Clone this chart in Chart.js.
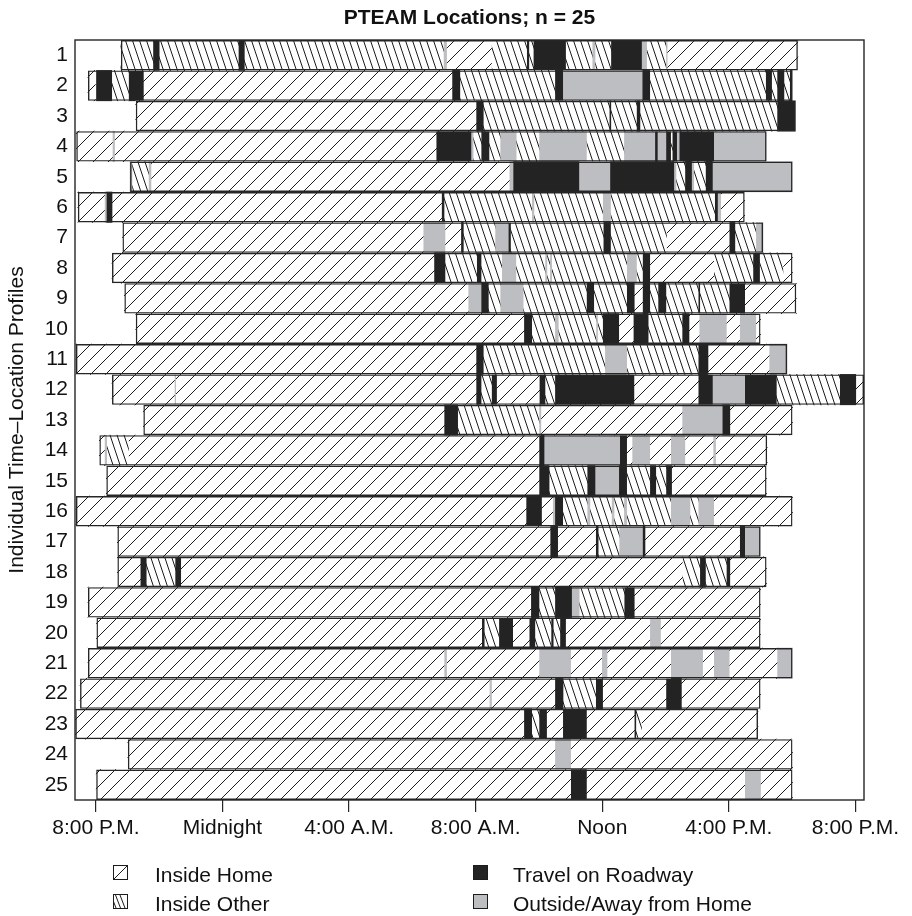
<!DOCTYPE html>
<html>
<head>
<meta charset="utf-8">
<script src="https://cdn.jsdelivr.net/npm/chart.js@4.4.1/dist/chart.umd.min.js"></script>
<style>
  html, body { margin: 0; padding: 0; background: #fff; }
  #wrap { position: relative; width: 912px; height: 916px; }
  #chart { position: absolute; left: 0; top: 0; }
  #title { position: absolute; left: 269.5px; width: 400px; top: 4px; text-align: center;
           font: bold 21px "Liberation Sans", Arial, Helvetica, sans-serif; line-height: 25px; color: #111; white-space: nowrap; }
  .lg { position: absolute; font: 21px "Liberation Sans", Arial, Helvetica, sans-serif; line-height: 21px; color: #111; white-space: nowrap; }
  .sw { position: absolute; }
</style>
</head>
<body>
<div id="wrap">
  <canvas id="chart" width="912" height="916"></canvas>
  <div id="title">PTEAM Locations; n = 25</div>
  <div id="legend"></div>
</div>
<script>
// Location categories (codes used in the profiles below)
const categories = ['Inside Home', 'Inside Other', 'Travel on Roadway', 'Outside/Away from Home'];
const codes = ['H', 'O', 'T', 'A'];

// Hours after 8:00 P.M. and their axis labels
const tickHours = [0, 4, 8, 12, 16, 20, 24];
const tickLabels = ['8:00 P.M.', 'Midnight', '4:00 A.M.', '8:00 A.M.', 'Noon', '4:00 P.M.', '8:00 P.M.'];
const xMin = -0.66;
const xMax = 24.27;

// Each profile: start hour, then (location code, end hour) pairs
const p01 = [0.79, 'O', 1.80, 'T', 2.0, 'O', 4.5, 'T', 4.69, 'O', 10.98, 'A', 11.08, 'H', 12.5, 'O', 13.61, 'T', 13.68, 'O', 13.82, 'T', 14.84, 'O', 15.68, 'A', 15.77, 'O', 16.27, 'T', 17.24, 'A', 17.40, 'O', 18.01, 'A', 18.05, 'H', 22.18];
const p02 = [-0.25, 'H', 0.0, 'T', 0.5, 'O', 1.03, 'T', 1.5, 'H', 11.25, 'T', 11.5, 'O', 14.5, 'T', 14.75, 'A', 17.26, 'T', 17.5, 'O', 21.16, 'T', 21.35, 'O', 21.52, 'T', 21.74, 'O', 21.92, 'T', 22.0];
const p03 = [1.26, 'H', 12.01, 'T', 12.24, 'O', 16.22, 'T', 16.27, 'O', 17.08, 'T', 17.19, 'O', 21.52, 'T', 22.1];
const p04 = [-0.62, 'H', 0.52, 'A', 0.59, 'H', 10.75, 'T', 11.85, 'A', 11.92, 'O', 12.17, 'T', 12.42, 'O', 12.77, 'A', 13.28, 'O', 14.0, 'A', 15.5, 'O', 16.68, 'A', 17.66, 'T', 17.74, 'A', 18.01, 'T', 18.16, 'O', 18.21, 'T', 18.35, 'A', 18.43, 'T', 19.52, 'A', 21.19];
const p05 = [1.08, 'A', 1.14, 'O', 1.66, 'A', 1.74, 'H', 13.06, 'A', 13.18, 'T', 15.26, 'A', 16.24, 'T', 18.26, 'A', 18.33, 'O', 18.61, 'T', 18.82, 'A', 18.89, 'O', 19.26, 'T', 19.48, 'A', 22.01];
const p06 = [-0.57, 'H', 0.27, 'A', 0.33, 'T', 0.51, 'H', 10.92, 'T', 11.0, 'O', 13.77, 'A', 13.84, 'O', 16.01, 'A', 16.26, 'O', 19.55, 'T', 19.64, 'A', 19.74, 'H', 20.5];
const p07 = [0.84, 'H', 10.34, 'A', 11.03, 'H', 11.53, 'T', 11.61, 'O', 12.61, 'A', 13.03, 'T', 13.1, 'O', 16.03, 'T', 16.26, 'O', 18.03, 'H', 20.01, 'T', 20.19, 'O', 20.85, 'A', 21.08];
const p08 = [0.51, 'H', 10.68, 'T', 11.03, 'O', 12.03, 'T', 12.17, 'O', 12.82, 'A', 13.27, 'O', 14.19, 'A', 14.25, 'O', 14.34, 'A', 14.4, 'O', 16.77, 'A', 17.08, 'O', 17.27, 'T', 17.5, 'H', 19.52, 'O', 20.76, 'T', 20.97, 'O', 21.71, 'H', 22.01];
const p09 = [0.9, 'H', 11.76, 'A', 12.17, 'T', 12.4, 'O', 12.77, 'A', 13.5, 'O', 15.5, 'T', 15.73, 'O', 16.77, 'T', 17.01, 'H', 17.27, 'T', 17.5, 'O', 17.76, 'T', 18.01, 'O', 19.03, 'T', 19.08, 'O', 20.01, 'T', 20.5, 'H', 22.13];
const p10 = [1.26, 'H', 13.52, 'T', 13.77, 'O', 14.5, 'A', 14.61, 'O', 15.8, 'A', 15.85, 'O', 16.01, 'T', 16.52, 'H', 16.98, 'T', 17.45, 'O', 18.52, 'T', 18.74, 'H', 19.06, 'A', 19.92, 'H', 20.34, 'A', 20.85, 'H', 21.0];
const p11 = [-0.63, 'H', 12.01, 'T', 12.24, 'O', 16.08, 'A', 16.77, 'O', 19.03, 'T', 19.34, 'H', 21.27, 'A', 21.84];
const p12 = [0.51, 'H', 2.48, 'A', 2.52, 'H', 12.01, 'T', 12.17, 'O', 12.5, 'T', 12.66, 'H', 14.01, 'T', 14.19, 'O', 14.5, 'T', 17.0, 'H', 19.03, 'T', 19.48, 'A', 20.5, 'T', 21.5, 'O', 23.5, 'T', 24.01, 'H', 24.27];
const p13 = [1.5, 'H', 11.0, 'T', 11.43, 'O', 14.0, 'A', 14.06, 'H', 18.52, 'A', 19.79, 'T', 20.03, 'H', 22.01];
const p14 = [0.11, 'H', 0.27, 'A', 0.34, 'O', 1.03, 'H', 14.0, 'T', 14.16, 'A', 16.55, 'T', 16.77, 'H', 16.94, 'A', 17.5, 'H', 18.16, 'A', 18.61, 'H', 19.5, 'A', 19.58, 'H', 21.21];
const p15 = [0.33, 'H', 14.0, 'T', 14.32, 'O', 15.52, 'T', 15.77, 'A', 16.52, 'T', 16.77, 'O', 17.5, 'T', 17.69, 'O', 18.01, 'T', 18.19, 'H', 21.19];
const p16 = [-0.63, 'H', 13.59, 'T', 14.08, 'H', 14.43, 'A', 14.5, 'T', 14.75, 'O', 15.52, 'A', 15.61, 'O', 16.29, 'A', 16.37, 'O', 16.68, 'A', 16.77, 'O', 18.16, 'A', 18.77, 'O', 19.03, 'A', 19.52, 'H', 22.01];
const p17 = [0.68, 'H', 14.35, 'T', 14.59, 'H', 15.79, 'T', 15.87, 'O', 16.53, 'A', 17.27, 'T', 17.35, 'H', 20.34, 'T', 20.5, 'A', 21.0];
const p18 = [0.68, 'H', 1.4, 'T', 1.59, 'O', 2.5, 'T', 2.68, 'H', 18.53, 'O', 19.08, 'T', 19.26, 'O', 19.92, 'T', 20.03, 'H', 21.19];
const p19 = [-0.25, 'H', 13.74, 'T', 14.0, 'O', 14.5, 'T', 15.03, 'A', 15.27, 'O', 16.69, 'T', 17.01, 'H', 21.0];
const p20 = [0.0, 'H', 12.19, 'T', 12.27, 'O', 12.73, 'T', 13.17, 'H', 13.69, 'T', 13.87, 'O', 14.38, 'T', 14.45, 'O', 14.66, 'T', 14.84, 'H', 17.5, 'A', 17.84, 'H', 21.0];
const p21 = [-0.25, 'H', 11.0, 'A', 11.08, 'H', 14.0, 'A', 15.0, 'H', 15.98, 'A', 16.15, 'H', 18.16, 'A', 19.17, 'H', 19.52, 'A', 20.01, 'H', 21.52, 'A', 22.01];
const p22 = [-0.5, 'H', 12.43, 'A', 12.5, 'H', 14.5, 'T', 14.76, 'O', 15.79, 'T', 16.01, 'H', 18.01, 'T', 18.5, 'H', 21.0];
const p23 = [-0.65, 'H', 13.52, 'T', 13.77, 'O', 14.0, 'T', 14.24, 'H', 14.75, 'T', 15.5, 'H', 17.01, 'T', 17.06, 'O', 17.24, 'H', 20.92];
const p24 = [1.01, 'H', 14.5, 'A', 15.0, 'H', 22.01];
const p25 = [0.01, 'H', 15.0, 'T', 15.5, 'H', 20.5, 'A', 21.0, 'H', 22.01];

const profiles = [p01, p02, p03, p04, p05, p06, p07, p08, p09, p10, p11, p12, p13,
                  p14, p15, p16, p17, p18, p19, p20, p21, p22, p23, p24, p25];
const rowLabels = profiles.map((_, i) => String(i + 1));

const FONT = '"Liberation Sans", Arial, Helvetica, sans-serif';
const INK = '#1c1c1c';

const canvas = document.getElementById('chart');
const ctx = canvas.getContext('2d');

// Hatch tiles: "/" for home, steep "\" for other indoor places
function hatchTile(kind) {
  const c = document.createElement('canvas');
  const w = kind === 'H' ? 15 : 7;
  const h = kind === 'H' ? 15 : 21;
  c.width = w; c.height = h;
  const g = c.getContext('2d');
  g.fillStyle = '#fff';
  g.fillRect(0, 0, w, h);
  g.strokeStyle = INK;
  g.lineWidth = 1;
  g.beginPath();
  for (let k = -1; k <= 1; k++) {
    if (kind === 'H') { g.moveTo(k * w, h); g.lineTo(k * w + w, 0); }
    else { g.moveTo(k * w, 0); g.lineTo(k * w + w, h); }
  }
  g.stroke();
  return c;
}

const fills = {
  H: ctx.createPattern(hatchTile('H'), 'repeat'),
  O: ctx.createPattern(hatchTile('O'), 'repeat'),
  T: '#232323',
  A: '#bdbec1'
};

// Break each profile into [from, to] segments
const rows = profiles.map(p => {
  const segs = [];
  let s = p[0];
  for (let i = 1; i < p.length; i += 2) {
    segs.push({ code: p[i], from: s, to: p[i + 1] });
    s = p[i + 1];
  }
  return { start: p[0], end: s, segs };
});
const maxSeg = Math.max(...rows.map(r => r.segs.length));

const datasets = [{
  label: 'day',
  data: rows.map(r => [r.start, r.end]),
  backgroundColor: 'rgba(0,0,0,0)',
  borderColor: '#262626',
  borderWidth: 1.4,
  borderSkipped: false,
  inflateAmount: 0,
  order: 0
}];
for (let k = 0; k < maxSeg; k++) {
  datasets.push({
    label: 'segment ' + (k + 1),
    data: rows.map(r => r.segs[k] ? [r.segs[k].from, r.segs[k].to] : null),
    backgroundColor: rows.map(r => r.segs[k] ? fills[r.segs[k].code] : 'rgba(0,0,0,0)'),
    borderWidth: 0,
    order: 1
  });
}

// Frame around the plotting region
const frame = {
  id: 'frame',
  afterDatasetsDraw(chart) {
    const a = chart.chartArea;
    const g = chart.ctx;
    g.save();
    g.strokeStyle = '#262626';
    g.lineWidth = 1.4;
    g.strokeRect(a.left, a.top, a.right - a.left, a.bottom - a.top);
    g.restore();
  }
};

new Chart(ctx, {
  type: 'bar',
  data: { labels: rowLabels, datasets },
  plugins: [frame],
  options: {
    indexAxis: 'y',
    responsive: false,
    animation: false,
    events: [],
    datasets: { bar: { grouped: false, barPercentage: 1, categoryPercentage: 1 } },
    layout: { padding: { left: 0, right: 48, top: 40, bottom: 0 } },
    plugins: {
      legend: { display: false },
      tooltip: { enabled: false },
      title: { display: false }
    },
    scales: {
      x: {
        type: 'linear',
        min: xMin,
        max: xMax,
        afterBuildTicks: s => { s.ticks = tickHours.map(v => ({ value: v })); },
        afterFit: s => { s.height = 116; },
        ticks: {
          autoSkip: false,
          maxRotation: 0,
          padding: 4,
          color: '#111',
          font: { family: FONT, size: 21 },
          callback: (v, i) => tickLabels[i]
        },
        grid: { drawOnChartArea: false, drawTicks: true, tickLength: 12, color: '#262626', lineWidth: 1.2 },
        border: { display: false }
      },
      y: {
        type: 'category',
        afterFit: s => { s.width = 75; },
        ticks: { autoSkip: false, padding: 7, color: '#111', font: { family: FONT, size: 21 } },
        grid: { display: false, drawTicks: false },
        border: { display: false },
        title: {
          display: true,
          text: 'Individual Time–Location Profiles',
          color: '#111',
          font: { family: FONT, size: 21 },
          padding: { top: 5, bottom: 0 }
        }
      }
    }
  }
});

// Legend in two columns below the axis
const legendSlots = [
  { code: 'H', x: 113, y: 865, tx: 155, ty: 864 },
  { code: 'O', x: 113, y: 894, tx: 155, ty: 893 },
  { code: 'T', x: 473, y: 865, tx: 513, ty: 864 },
  { code: 'A', x: 473, y: 894, tx: 513, ty: 893 }
];
const legend = document.getElementById('legend');
legendSlots.forEach(slot => {
  const sw = document.createElement('canvas');
  sw.width = 15; sw.height = 15;
  sw.className = 'sw';
  sw.style.left = slot.x + 'px';
  sw.style.top = slot.y + 'px';
  const g = sw.getContext('2d');
  g.fillStyle = slot.code === 'T' ? fills.T : slot.code === 'A' ? fills.A : '#fff';
  g.fillRect(1, 1, 13, 13);
  g.strokeStyle = INK;
  g.lineWidth = 1;
  if (slot.code === 'H') {
    g.beginPath(); g.moveTo(1, 14); g.lineTo(14, 1); g.stroke();
  } else if (slot.code === 'O') {
    g.save(); g.beginPath(); g.rect(1, 1, 13, 13); g.clip();
    g.beginPath();
    [-3, 1.5, 6].forEach(x0 => { g.moveTo(x0 + 1, 1); g.lineTo(x0 + 6, 14); });
    g.stroke(); g.restore();
  }
  g.strokeRect(0.5, 0.5, 14, 14);
  legend.appendChild(sw);
  const t = document.createElement('div');
  t.className = 'lg';
  t.style.left = slot.tx + 'px';
  t.style.top = slot.ty + 'px';
  t.textContent = categories[codes.indexOf(slot.code)];
  legend.appendChild(t);
});
</script>
</body>
</html>
